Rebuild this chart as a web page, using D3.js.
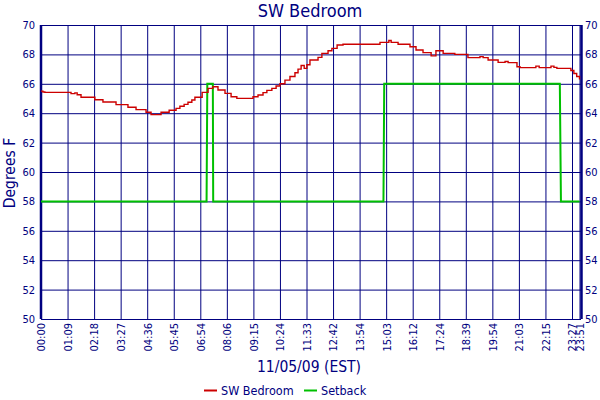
<!DOCTYPE html>
<html>
<head>
<meta charset="utf-8">
<script src="https://cdn.jsdelivr.net/npm/d3@7"></script>
<style>
  html, body { margin: 0; padding: 0; background: #fff; }
  svg { display: block; }
  text { font-family: "DejaVu Sans Condensed", "DejaVu Sans", sans-serif; fill: #000080; }
</style>
</head>
<body>
<svg id="chart" width="600" height="400"></svg>
<script>
// ---------------- data ----------------
const tickLabels = ["00:00","01:09","02:18","03:27","04:36","05:45","06:54","08:06","09:15","10:24",
  "11:33","12:42","13:54","15:03","16:12","17:24","18:39","19:54","21:03","22:15","23:27","23:51"];
const yTicks = [50,52,54,56,58,60,62,64,66,68,70];

// SW Bedroom temperature (minutes after midnight, degrees F)
const tempMinutes = [0,5,10,78,88,94,104,140,161,195,226,247,273,286,312,333,351,361,372,382,392,400,
  419,435,448,462,481,497,512,554,567,580,590,603,614,624,637,650,663,671,679,687,694,702,723,733,749,759,
  773,789,887,910,916,934,965,981,1000,1022,1035,1055,1088,1125,1159,1168,1182,1209,1227,1235,1258,1266,
  1309,1318,1350,1358,1366,1404,1413,1422,1431];
const tempValues = [65.50,65.44,65.42,65.33,65.38,65.26,65.08,64.92,64.76,64.58,64.40,64.24,64.06,63.90,64.06,64.20,64.33,64.47,64.60,64.74,64.90,65.08,
  65.42,65.69,65.80,65.58,65.35,65.12,65.01,65.12,65.24,65.40,65.55,65.69,65.85,66.00,66.25,66.50,66.75,67.00,67.25,67.05,67.30,67.62,67.80,68.07,68.25,68.41,
  68.64,68.69,68.82,68.95,68.82,68.69,68.52,68.30,68.12,67.90,68.25,68.07,68.00,67.78,67.85,67.78,67.62,67.46,67.52,67.44,67.16,67.10,
  67.20,67.10,67.20,67.12,67.05,66.90,66.70,66.50,66.30];

// Setback (minutes after midnight, degrees F)
const setbackMinutes = [0,431,433,448,449,896,898,1374,1377,1431];
const setbackValues  = [58,58,66,66,58,58,66,66,58,58];

const seriesNames = ["SW Bedroom","Setback"];
const seriesColors = ["#cc0000","#00c000"];

// ---------------- layout ----------------
const svg = d3.select("#chart");
const margin = {left: 41, top: 25, right: 19, bottom: 81};
const W = 600 - margin.left - margin.right;   // 540
const H = 400 - margin.top - margin.bottom;   // 294
const g = svg.append("g").attr("transform", `translate(${margin.left},${margin.top})`);

const toMin = s => { const [h, m] = s.split(":").map(Number); return h * 60 + m; };
const tickMinutes = tickLabels.map(toMin);
const step = 26.55;
const tickPos = tickLabels.map((_, i) => i < tickLabels.length - 1 ? i * step : W - 1.5);

const x = d3.scaleLinear().domain(tickMinutes).range(tickPos);
const y = d3.scaleLinear().domain([50, 70]).range([H, 0]);

const fontFam = '"DejaVu Sans Condensed", "DejaVu Sans", sans-serif';

// horizontal gridlines + left labels
const yAxisL = g.append("g").call(d3.axisLeft(y).tickValues(yTicks).tickSize(-W).tickPadding(6));
yAxisL.select(".domain").remove();
yAxisL.selectAll(".tick line").attr("stroke", "#000080").attr("stroke-width", 1);
yAxisL.selectAll(".tick text").attr("font-size", 11).style("fill", "#000080").style("font-family", fontFam);

// right labels
const yAxisR = g.append("g").attr("transform", `translate(${W},0)`)
  .call(d3.axisRight(y).tickValues(yTicks).tickSize(0).tickPadding(4));
yAxisR.select(".domain").remove();
yAxisR.selectAll(".tick text").attr("font-size", 11).style("fill", "#000080").style("font-family", fontFam);

// vertical gridlines + bottom labels
const xAxis = g.append("g").attr("transform", `translate(0,${H})`)
  .call(d3.axisBottom(x).tickValues(tickMinutes).tickSize(-H)
    .tickFormat((d, i) => tickLabels[i]));
xAxis.select(".domain").remove();
xAxis.selectAll(".tick line").attr("stroke", "#000080").attr("stroke-width", 1);
xAxis.selectAll(".tick text")
  .attr("font-size", 11).style("fill", "#000080").style("font-family", fontFam)
  .attr("text-anchor", "end")
  .attr("transform", "translate(0,4) rotate(-90)")
  .attr("x", 0).attr("y", 0).attr("dx", 0).attr("dy", "0.35em");

// thick left & right axes
g.append("line").attr("x1", 0).attr("x2", 0).attr("y1", 0).attr("y2", H)
  .attr("stroke", "#000080").attr("stroke-width", 2.5);
g.append("line").attr("x1", W + 0.5).attr("x2", W + 0.5).attr("y1", 0).attr("y2", H)
  .attr("stroke", "#000080").attr("stroke-width", 2.5);

// series
const setbackLine = d3.line().x(d => x(d[0])).y(d => y(d[1]));
g.append("path")
  .datum(setbackMinutes.map((m, i) => [m, setbackValues[i]]))
  .attr("d", setbackLine).attr("fill", "none")
  .attr("stroke", seriesColors[1]).attr("stroke-width", 2);

const tempLine = d3.line().x(d => x(d[0])).y(d => y(d[1])).curve(d3.curveStepAfter);
g.append("path")
  .datum(tempMinutes.map((m, i) => [m, tempValues[i]]))
  .attr("d", tempLine).attr("fill", "none")
  .attr("stroke", seriesColors[0]).attr("stroke-width", 1.4);

// titles
svg.append("text").attr("x", 310).attr("y", 17).attr("text-anchor", "middle")
  .attr("font-size", 18).text("SW Bedroom");
svg.append("text").attr("transform", "translate(15,173) rotate(-90)").attr("text-anchor", "middle")
  .attr("font-size", 15.5).text("Degrees F");
svg.append("text").attr("x", 309).attr("y", 372).attr("text-anchor", "middle")
  .attr("font-size", 15.5).text("11/05/09 (EST)");

// legend
const legendX = [204, 304];
seriesNames.forEach((name, i) => {
  const lg = svg.append("g").attr("transform", `translate(${legendX[i]},390.5)`);
  lg.append("line").attr("x1", 0).attr("x2", 13).attr("y1", 0).attr("y2", 0)
    .attr("stroke", seriesColors[i]).attr("stroke-width", 2);
  lg.append("text").attr("x", 17).attr("y", 4.5).attr("font-size", 12.5).text(name);
});
</script>
</body>
</html>
